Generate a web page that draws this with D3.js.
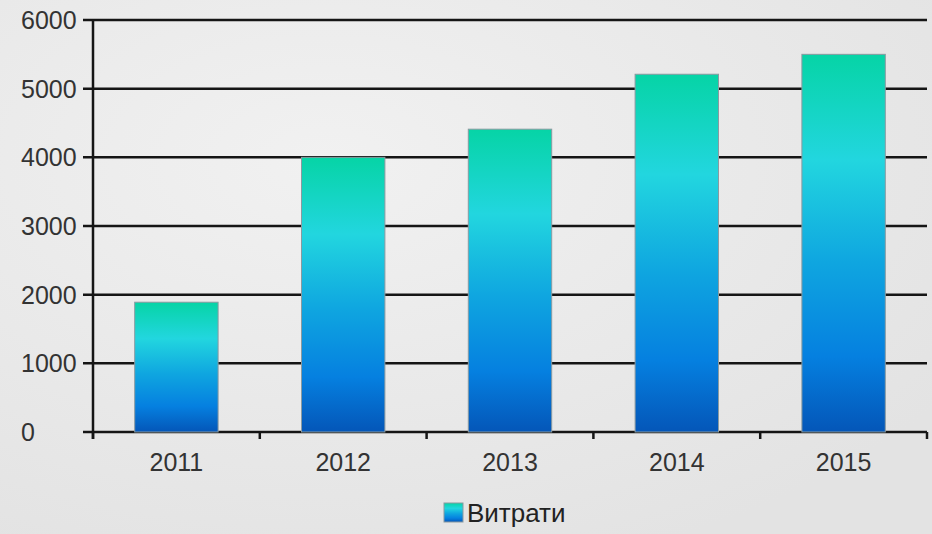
<!DOCTYPE html>
<html><head><meta charset="utf-8">
<script src="https://cdn.jsdelivr.net/npm/d3@7"></script>
<style>html,body{margin:0;padding:0;overflow:hidden}svg{display:block}</style>
</head><body>
<script>
const categories = ["2011","2012","2013","2014","2015"];
const values = [1890, 4000, 4410, 5210, 5500];
const yTicks = [0,1000,2000,3000,4000,5000,6000];
const seriesName = "Витрати";

const W = 932, H = 534;
const m = {left: 93, right: 5, top: 20, bottom: 102};
const svg = d3.select("body").append("svg").attr("width", W).attr("height", H);
const defs = svg.append("defs");

const bg = defs.append("radialGradient").attr("id","bg").attr("cx","35%").attr("cy","30%").attr("r","80%");
bg.append("stop").attr("offset","0%").attr("stop-color","#f1f1f1");
bg.append("stop").attr("offset","100%").attr("stop-color","#e3e3e3");
svg.append("rect").attr("width",W).attr("height",H).attr("fill","url(#bg)");

const bar = defs.append("linearGradient").attr("id","bar").attr("x1",0).attr("y1",0).attr("x2",0).attr("y2",1);
[["0%","#06d4a6"],["28%","#22d6df"],["55%","#0fa6e0"],["80%","#0580e0"],["100%","#0456b8"]].forEach(s=>bar.append("stop").attr("offset",s[0]).attr("stop-color",s[1]));

const x = d3.scaleBand().domain(categories).range([m.left, W - m.right]).paddingInner(0.5).paddingOuter(0.25);
const y = d3.scaleLinear().domain([0,6000]).range([H - m.bottom, m.top]);
const font = "Liberation Sans, Arial, sans-serif";

// gridlines
svg.append("g").selectAll("line").data(yTicks).join("line")
  .attr("x1", m.left - 10).attr("x2", W - m.right)
  .attr("y1", d=>y(d)).attr("y2", d=>y(d))
  .attr("stroke","#151515").attr("stroke-width",2.5);

// bars
svg.append("g").selectAll("rect").data(values).join("rect")
  .attr("x",(d,i)=>x(categories[i])).attr("width",x.bandwidth())
  .attr("y",d=>y(d)).attr("height",d=>y(0)-y(d))
  .attr("fill","url(#bar)").attr("stroke","#8a9aa0").attr("stroke-width",1);

// y axis line
svg.append("line").attr("x1",m.left).attr("x2",m.left).attr("y1",y(6000)).attr("y2",y(0)+7)
  .attr("stroke","#151515").attr("stroke-width",2.5);
// x ticks at band boundaries
const step = x.step();
const bounds = d3.range(categories.length+1).map(i=>m.left + i*step);
svg.append("g").selectAll("line").data(bounds).join("line")
  .attr("x1",d=>d).attr("x2",d=>d).attr("y1",y(0)).attr("y2",y(0)+7)
  .attr("stroke","#151515").attr("stroke-width",2.5);

// y labels
svg.append("g").selectAll("text").data(yTicks).join("text")
  .attr("x",21).attr("y",d=>y(d)+9).text(d=>d)
  .attr("font-family",font).attr("font-size",25).attr("fill","#333");
// x labels
svg.append("g").selectAll("text").data(categories).join("text")
  .attr("x",d=>x(d)+x.bandwidth()/2).attr("y",471).attr("text-anchor","middle").text(d=>d)
  .attr("font-family",font).attr("font-size",25).attr("fill","#333");

// legend
svg.append("rect").attr("x",444).attr("y",503).attr("width",19).attr("height",19)
  .attr("fill","url(#bar)").attr("stroke","#8a9aa0").attr("stroke-width",1);
svg.append("text").attr("x",467).attr("y",522).text(seriesName)
  .attr("font-family",font).attr("font-size",26).attr("fill","#222");
</script>
</body></html>
